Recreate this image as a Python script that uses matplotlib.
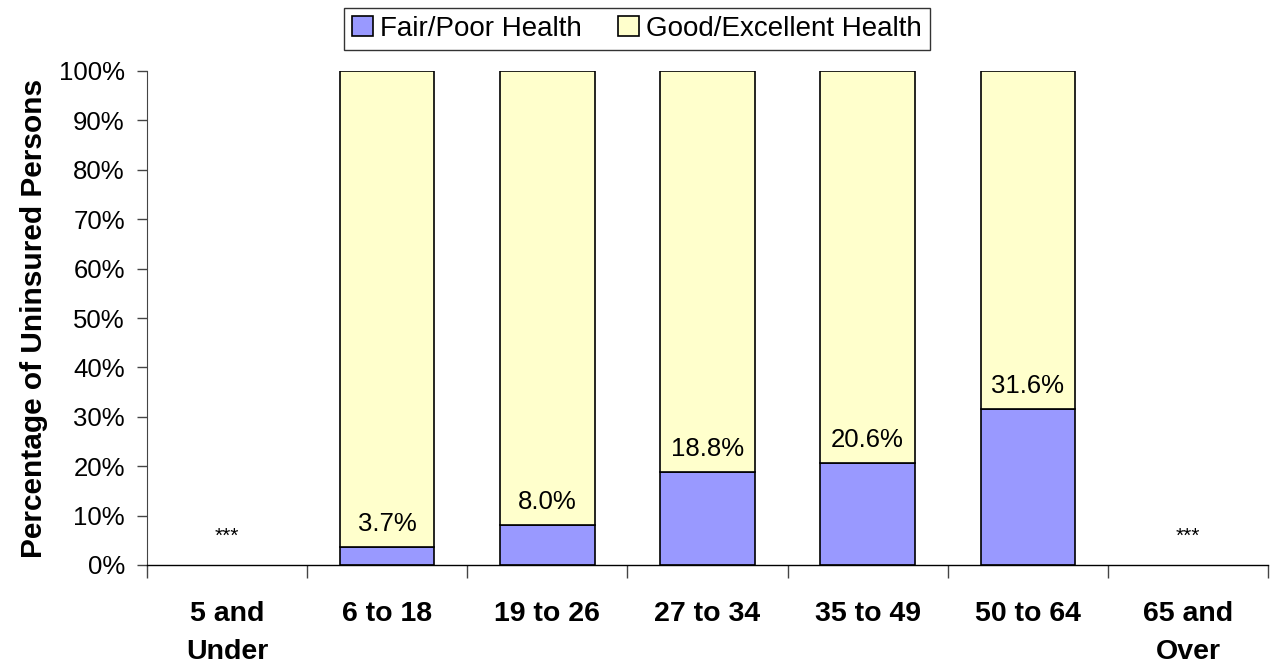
import matplotlib.pyplot as plt
import numpy as np

plt.rcParams['font.family'] = ['Liberation Sans', 'DejaVu Sans']

categories = ["5 and\nUnder", "6 to 18", "19 to 26", "27 to 34", "35 to 49", "50 to 64", "65 and\nOver"]
fair_poor = [np.nan, 3.7, 8.0, 18.8, 20.6, 31.6, np.nan]
labels = [None, "3.7%", "8.0%", "18.8%", "20.6%", "31.6%", None]
suppressed = [True, False, False, False, False, False, True]

good_exc = [np.nan if np.isnan(v) else 100 - v for v in fair_poor]

fig = plt.figure(figsize=(12.7, 6.64), dpi=100)
ax = fig.add_axes([147 / 1270, 1 - 565 / 664, (1268 - 147) / 1270, (565 - 71) / 664])

x = np.arange(len(categories))
b1 = ax.bar(x, fair_poor, width=0.59, color="#9999FF", edgecolor="black", linewidth=1.2,
            label="Fair/Poor Health")
b2 = ax.bar(x, good_exc, width=0.59, bottom=fair_poor, color="#FFFFCC", edgecolor="black",
            linewidth=1.2, label="Good/Excellent Health")

for i, (v, lab) in enumerate(zip(fair_poor, labels)):
    if lab:
        ax.annotate(lab, (i, v), xytext=(0, 8), textcoords="offset points",
                    ha="center", va="bottom", fontsize=18.5)
for i, s in enumerate(suppressed):
    if s:
        ax.text(i, 5.8, "***", ha="center", va="center", fontsize=15)

ax.set_xlim(-0.5, len(categories) - 0.5)
ax.set_ylim(0, 100)
ax.set_yticks(np.arange(0, 101, 10))
ax.set_yticklabels([f"{t}%" for t in range(0, 101, 10)], fontsize=18.5)
ax.set_xticks(np.arange(-0.5, len(categories), 1))
ax.set_xticklabels([])
ax.set_xticks(x, minor=True)
ax.set_xticklabels(categories, minor=True, fontsize=20.5, fontweight="bold", linespacing=1.6)
ax.tick_params(axis="x", which="minor", length=0, pad=26)
ax.tick_params(axis="x", which="major", length=9, width=1, direction="out", color="#444444")
ax.tick_params(axis="y", length=7, width=1, direction="out", pad=9, color="#444444")

for side in ["top", "right"]:
    ax.spines[side].set_visible(False)
ax.spines["left"].set_color("#444444")
ax.spines["bottom"].set_linewidth(1)

ax.set_ylabel("Percentage of Uninsured Persons", fontsize=21.5, fontweight="bold", labelpad=8)

fig.legend(handles=[b1, b2], loc="center", bbox_to_anchor=(637 / 1270, 1 - 29 / 664),
           ncol=2, fontsize=20, frameon=True, fancybox=False, edgecolor="black",
           handlelength=0.75, handleheight=0.75, handletextpad=0.25, columnspacing=1.3,
           borderpad=0.3, borderaxespad=0)

fig.savefig("out.png", dpi=100)
